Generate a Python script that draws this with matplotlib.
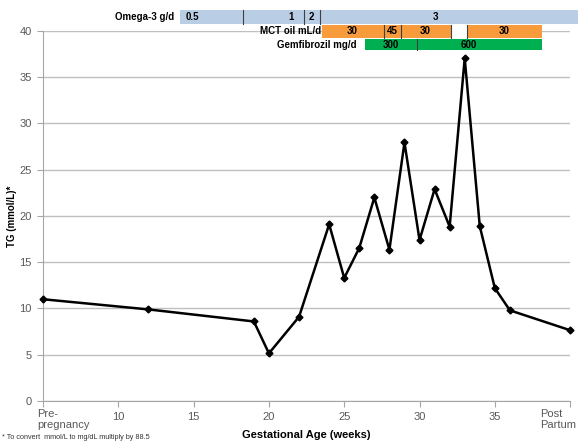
import matplotlib
matplotlib.use('Agg')
import matplotlib.pyplot as plt
from matplotlib.patches import Rectangle
from matplotlib.transforms import blended_transform_factory

plt.rcParams['font.family'] = ['Liberation Sans', 'DejaVu Sans']

# TG measurements (gestational week, mmol/L); week 5 = pre-pregnancy, 40 = post partum
weeks = [5, 12, 19, 20, 22, 24, 25, 26, 27, 28, 29, 30, 31, 32, 33, 34, 35, 36, 40]
tg = [11.0, 9.9, 8.6, 5.15, 9.1, 19.1, 13.3, 16.55, 22.0, 16.35, 27.95, 17.4,
      22.9, 18.85, 37.05, 18.9, 12.2, 9.8, 7.65]

xticks = [5, 10, 15, 20, 25, 30, 35, 40]

# treatment regimens: segment start/end weeks, dose labels, label week
omega_edges = [14.1, 18.25, 22.35, 23.4, 41.0]
omega_doses = ['0.5', '1', '2', '3']
omega_label_at = [14.95, 21.45, 22.85, 31.05]

mct_edges = [23.55, 27.65, 28.8, 32.1]
mct_doses = ['30', '45', '30']
mct_label_at = [25.55, 28.2, 30.4]
mct_late = [33.15, 38.15, '30']   # restarted after a short pause

gem_edges = [26.4, 29.8, 38.15]
gem_doses = ['300', '600']
gem_label_at = [28.1, 33.25]

fig = plt.figure(figsize=(5.78, 4.46), dpi=100)
ax = fig.add_axes([0.0744, 0.1009, 0.912, 0.8296])

grey = '#595959'
ax.set_xlim(5, 40)
ax.set_ylim(0, 40)
ax.set_yticks(range(0, 41, 5))
ax.yaxis.grid(True, color='#c0c0c0', lw=1)
ax.set_axisbelow(True)
for s in ['top', 'right']:
    ax.spines[s].set_visible(False)
for s in ['left', 'bottom']:
    ax.spines[s].set_color('#a6a6a6')
ax.tick_params(axis='both', colors='#a6a6a6', labelcolor=grey, labelsize=8,
               length=4, width=0.8)
ax.tick_params(axis='x', pad=4)
ax.tick_params(axis='y', pad=4)

ax.set_xticks(xticks)
ax.set_xticklabels([''] + [str(t) for t in xticks[1:-1]] + [''])
ax.annotate('Pre-\npregnancy', xy=(5, 0), xytext=(-4, -6), textcoords='offset points',
            ha='left', va='top', fontsize=8, color=grey, linespacing=1.05,
            annotation_clip=False)
ax.annotate('Post\nPartum', xy=(40, 0), xytext=(4.5, -6), textcoords='offset points',
            ha='right', va='top', ma='left', fontsize=8, color=grey, linespacing=1.05,
            annotation_clip=False)

ax.plot(weeks, tg, color='black', lw=1.8, marker='D', ms=3.5, zorder=3, clip_on=False)

ax.set_xlabel('Gestational Age (weeks)', fontsize=8, fontweight='bold', labelpad=6)
ax.set_ylabel('TG (mmol/L)*', fontsize=7, fontweight='bold')
ax.yaxis.set_label_coords(-0.05, 0.5)
fig.text(0.004, 0.012, '* To convert  mmol/L to mg/dL multiply by 88.5',
         fontsize=5.2, color='#333333', ha='left', va='bottom')

tr = blended_transform_factory(ax.transData, ax.transAxes)


def draw_row(edges, doses, label_at, y0, y1, color, name, name_pad):
    for i in range(len(doses)):
        ax.add_patch(Rectangle((edges[i], y0), edges[i + 1] - edges[i], y1 - y0,
                               transform=tr, facecolor=color, edgecolor='none',
                               clip_on=False, zorder=4))
        if i > 0:
            ax.plot([edges[i], edges[i]], [y0, y1], transform=tr, color='#404040',
                    lw=0.8, clip_on=False, zorder=5)
        ax.text(label_at[i], (y0 + y1) / 2, doses[i], transform=tr, ha='center',
                va='center', fontsize=7, fontweight='bold', zorder=6)
    ax.annotate(name, xy=(edges[0], (y0 + y1) / 2), xycoords=tr,
                xytext=(-name_pad, 0), textcoords='offset points', ha='right',
                va='center', fontsize=7, fontweight='bold', annotation_clip=False)


draw_row(omega_edges, omega_doses, omega_label_at, 1.0189, 1.0568, '#b9cde5',
         'Omega-3 g/d', 4)
draw_row(mct_edges, mct_doses, mct_label_at, 0.9819, 1.0162, '#f79b3c',
         'MCT oil mL/d', 1)
# pause in MCT oil
ax.add_patch(Rectangle((mct_edges[-1], 0.9819), mct_late[0] - mct_edges[-1],
                       1.0162 - 0.9819, transform=tr, facecolor='white',
                       edgecolor='none', clip_on=False, zorder=4))
ax.plot([mct_edges[-1], mct_edges[-1]], [0.9819, 1.0162], transform=tr,
        color='#404040', lw=0.8, clip_on=False, zorder=5)
ax.plot([mct_late[0], mct_late[0]], [0.9819, 1.0162], transform=tr,
        color='#404040', lw=0.8, clip_on=False, zorder=5)
ax.add_patch(Rectangle((mct_late[0], 0.9819), mct_late[1] - mct_late[0],
                       1.0162 - 0.9819, transform=tr, facecolor='#f79b3c',
                       edgecolor='none', clip_on=False, zorder=4))
ax.text((mct_late[0] + mct_late[1]) / 2, (0.9819 + 1.0162) / 2, mct_late[2],
        transform=tr, ha='center', va='center', fontsize=7, fontweight='bold', zorder=6)
draw_row(gem_edges, gem_doses, gem_label_at, 0.9486, 0.978, '#00b050',
         'Gemfibrozil mg/d', 6)

fig.savefig('out.png', dpi=100)
